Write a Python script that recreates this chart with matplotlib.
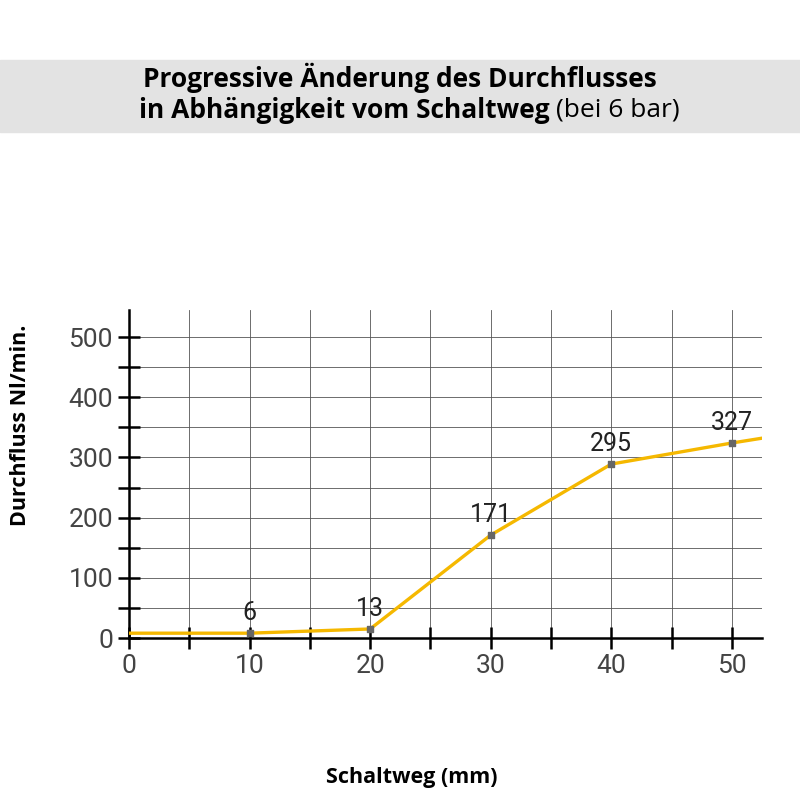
import matplotlib
matplotlib.use("Agg")
import matplotlib.pyplot as plt
from matplotlib.patches import Rectangle

# curve as drawn, and the printed point values
x_vals = [0, 10, 20, 30, 40, 50, 52.5]
y_vals = [8, 8, 15, 171, 289, 324, 332]
pt_x = [10, 20, 30, 40, 50]
pt_y = [8, 15, 171, 289, 324]
pt_labels = ["6", "13", "171", "295", "327"]

tickfont = ["Liberation Sans Narrow", "Roboto", "DejaVu Sans"]

fig = plt.figure(figsize=(8, 8), dpi=100)
fig.patches.append(Rectangle((0, 1 - 132/800), 1, 72/800, transform=fig.transFigure,
                             color="#e3e3e3", zorder=0))
fig.text(0.5, 1 - 78/800, "Progressive Änderung des Durchflusses", ha="center", va="center",
         fontsize=19, fontweight="bold", family="Open Sans")
fig.text(550/800, 1 - 110/800, "in Abhängigkeit vom Schaltweg", ha="right", va="center",
         fontsize=19, fontweight="bold", family="Open Sans")
fig.text(556/800, 1 - 110/800, "(bei 6 bar)", ha="left", va="center",
         fontsize=19, family="Open Sans")

ax = fig.add_axes([129/800, 1 - 638/800, 633/800, 328/800])
ax.plot(x_vals, y_vals, color="#f5b800", lw=2.4, zorder=3)
ax.scatter(pt_x, pt_y, marker="s", s=24, color="#666666", zorder=4)
for px, py, lab in zip(pt_x, pt_y, pt_labels):
    ax.text(px, py + 14, lab, ha="center", va="bottom", fontsize=18, family=tickfont,
            color="#222222")

ax.set_xlim(0, 52.5)
ax.set_ylim(0, 545)
ax.set_xticks(range(0, 51, 10))
ax.set_xticks(range(5, 51, 10), minor=True)
ax.set_yticks(range(0, 501, 100))
ax.set_yticks(range(50, 501, 100), minor=True)
ax.grid(True, which="both", color="#555555", lw=0.6)
for s in ["top", "right"]:
    ax.spines[s].set_visible(False)
ax.spines["left"].set_linewidth(1.8)
ax.spines["bottom"].set_linewidth(1.8)
ax.tick_params(which="both", direction="inout", length=16, width=1.8, labelsize=19,
               labelcolor="#444444")
for lab in ax.get_xticklabels() + ax.get_yticklabels():
    lab.set_family(tickfont)

fig.text(0.026, 1 - 425/800, "Durchfluss Nl/min.", rotation=90, ha="center", va="center",
         fontsize=15.5, fontweight="bold", family="Open Sans")
fig.text(0.515, 1 - 778/800, "Schaltweg (mm)", ha="center", va="center",
         fontsize=15.5, fontweight="bold", family="Open Sans")

fig.savefig("out.png", dpi=100)
